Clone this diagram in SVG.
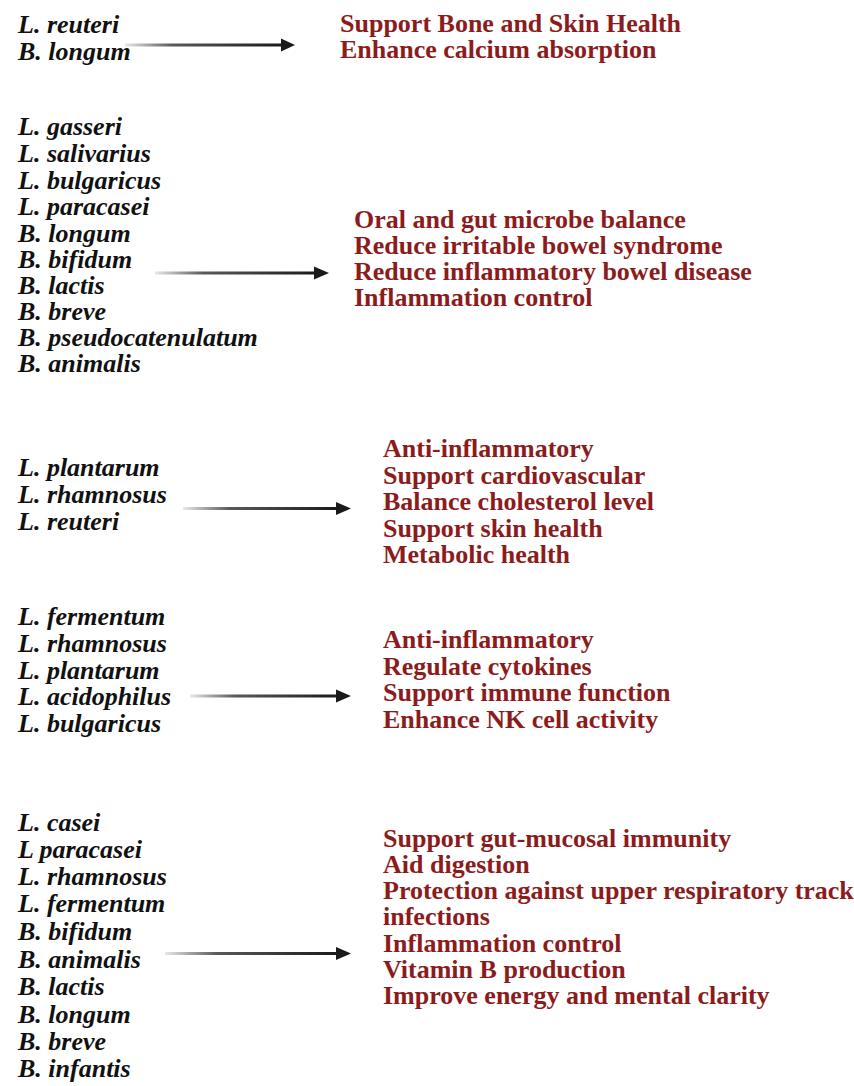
<svg xmlns="http://www.w3.org/2000/svg" width="854" height="1086" viewBox="0 0 854 1086">
<style>
.sp{font-family:"Liberation Serif","Times New Roman",serif;font-weight:bold;font-style:italic;font-size:26px;fill:#111}
.ef{font-family:"Liberation Serif","Times New Roman",serif;font-weight:bold;font-size:26px;fill:#8c1c1c}
.ln{fill:url(#g)}
.hd{fill:#1a1a1a}
</style>
<defs>
<linearGradient id="g" x1="0" y1="0" x2="1" y2="0">
<stop offset="0" stop-color="#222" stop-opacity="0.1"/>
<stop offset="0.3" stop-color="#222" stop-opacity="0.75"/>
<stop offset="1" stop-color="#1a1a1a"/>
</linearGradient>
</defs>
<rect width="854" height="1086" fill="#fff"/>
<g id="connectors">
<rect class="ln" x="125" y="43.5" width="158" height="3"/><path class="hd" d="M281,38.5 L295,45 L281,51.5 z"/>
<rect class="ln" x="155" y="271.5" width="161" height="3"/><path class="hd" d="M314,266.5 L329,273 L314,279.5 z"/>
<rect class="ln" x="183" y="507" width="155" height="3"/><path class="hd" d="M336,502 L351,508.5 L336,515 z"/>
<rect class="ln" x="190" y="694.5" width="148" height="3"/><path class="hd" d="M336,689.5 L351,696 L336,702.5 z"/>
<rect class="ln" x="165" y="952" width="173" height="3"/><path class="hd" d="M336,947 L351,953.5 L336,960 z"/>
</g>
<g id="src1"><text class="sp" x="18" y="33">L. reuteri</text><text class="sp" x="18" y="60">B. longum</text></g>
<g id="eff1"><text class="ef" x="340" y="32">Support Bone and Skin Health</text><text class="ef" x="340" y="58">Enhance calcium absorption</text></g>
<g id="src2">
<text class="sp" x="18" y="135">L. gasseri</text>
<text class="sp" x="18" y="162">L. salivarius</text>
<text class="sp" x="18" y="189">L. bulgaricus</text>
<text class="sp" x="18" y="215">L. paracasei</text>
<text class="sp" x="18" y="242">B. longum</text>
<text class="sp" x="18" y="268">B. bifidum</text>
<text class="sp" x="18" y="294">B. lactis</text>
<text class="sp" x="18" y="320">B. breve</text>
<text class="sp" x="18" y="346">B. pseudocatenulatum</text>
<text class="sp" x="18" y="372">B. animalis</text>
</g>
<g id="eff2">
<text class="ef" x="354" y="228">Oral and gut microbe balance</text>
<text class="ef" x="354" y="254">Reduce irritable bowel syndrome</text>
<text class="ef" x="354" y="280">Reduce inflammatory bowel disease</text>
<text class="ef" x="354" y="306">Inflammation control</text>
</g>
<g id="src3">
<text class="sp" x="18" y="476">L. plantarum</text>
<text class="sp" x="18" y="503">L. rhamnosus</text>
<text class="sp" x="18" y="530">L. reuteri</text>
</g>
<g id="eff3">
<text class="ef" x="383" y="457">Anti-inflammatory</text>
<text class="ef" x="383" y="484">Support cardiovascular</text>
<text class="ef" x="383" y="510">Balance cholesterol level</text>
<text class="ef" x="383" y="537">Support skin health</text>
<text class="ef" x="383" y="563">Metabolic health</text>
</g>
<g id="src4">
<text class="sp" x="18" y="625">L. fermentum</text>
<text class="sp" x="18" y="652">L. rhamnosus</text>
<text class="sp" x="18" y="679">L. plantarum</text>
<text class="sp" x="18" y="705">L. acidophilus</text>
<text class="sp" x="18" y="732">L. bulgaricus</text>
</g>
<g id="eff4">
<text class="ef" x="383" y="648">Anti-inflammatory</text>
<text class="ef" x="383" y="675">Regulate cytokines</text>
<text class="ef" x="383" y="701">Support immune function</text>
<text class="ef" x="383" y="728">Enhance NK cell activity</text>
</g>
<g id="src5">
<text class="sp" x="18" y="831">L. casei</text>
<text class="sp" x="18" y="858">L paracasei</text>
<text class="sp" x="18" y="885">L. rhamnosus</text>
<text class="sp" x="18" y="912">L. fermentum</text>
<text class="sp" x="18" y="940">B. bifidum</text>
<text class="sp" x="18" y="968">B. animalis</text>
<text class="sp" x="18" y="995">B. lactis</text>
<text class="sp" x="18" y="1023">B. longum</text>
<text class="sp" x="18" y="1050">B. breve</text>
<text class="sp" x="18" y="1077">B. infantis</text>
</g>
<g id="eff5">
<text class="ef" x="383" y="847">Support gut-mucosal immunity</text>
<text class="ef" x="383" y="873">Aid digestion</text>
<text class="ef" x="383" y="899">Protection against upper respiratory track</text>
<text class="ef" x="383" y="925">infections</text>
<text class="ef" x="383" y="952">Inflammation control</text>
<text class="ef" x="383" y="978">Vitamin B production</text>
<text class="ef" x="383" y="1004">Improve energy and mental clarity</text>
</g>
</svg>
